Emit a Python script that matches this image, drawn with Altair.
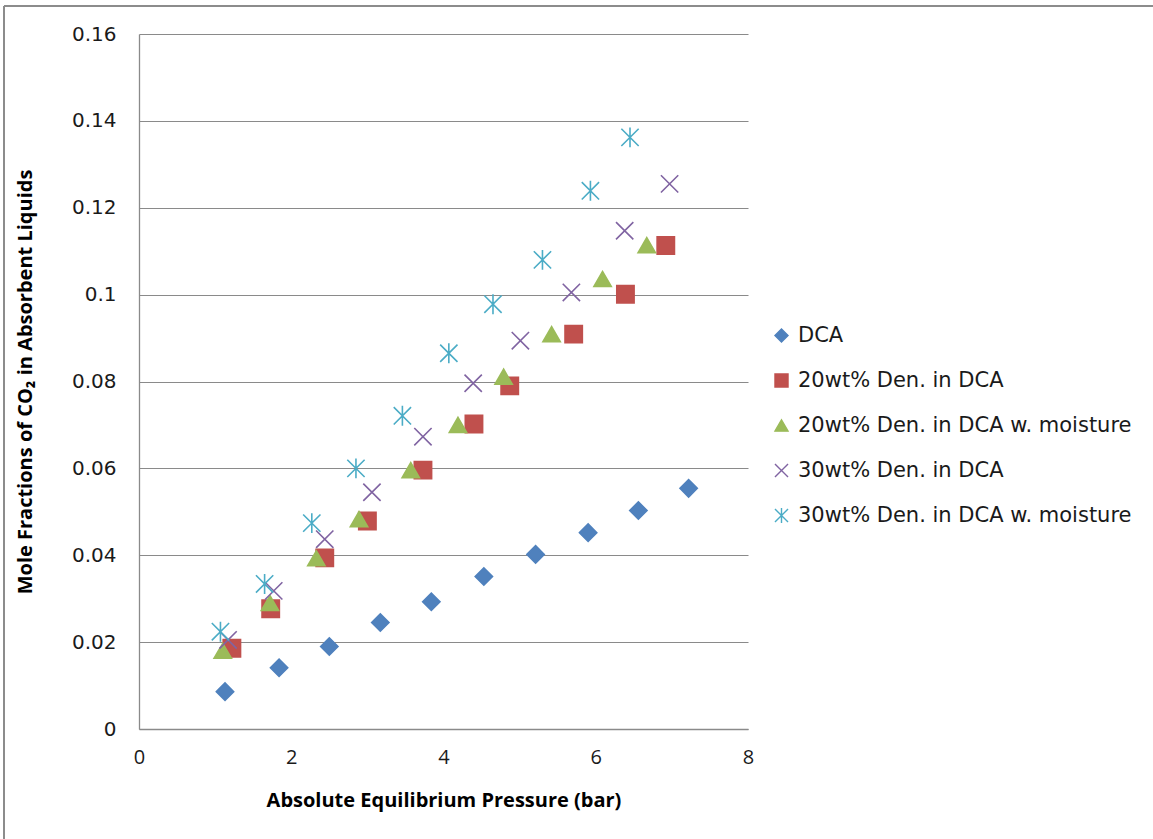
import altair as alt
import pandas as pd

# Series names (legend order)
series_names = [
    "DCA",
    "20wt% Den. in DCA",
    "20wt% Den. in DCA w. moisture",
    "30wt% Den. in DCA",
    "30wt% Den. in DCA w. moisture",
]

# Absolute equilibrium pressure (bar) and CO2 mole fraction per series
dca_p = [1.13, 1.84, 2.50, 3.17, 3.84, 4.53, 5.21, 5.90, 6.56, 7.22]
dca_x = [0.0086, 0.0141, 0.0190, 0.0245, 0.0293, 0.0351, 0.0402, 0.0452, 0.0503, 0.0554]

den20_p = [1.22, 1.73, 2.44, 3.00, 3.73, 4.40, 4.87, 5.71, 6.39, 6.92]
den20_x = [0.0186, 0.0277, 0.0394, 0.0479, 0.0596, 0.0702, 0.0790, 0.0909, 0.1001, 0.1113]

den20m_p = [1.10, 1.72, 2.33, 2.89, 3.57, 4.19, 4.79, 5.42, 6.09, 6.67]
den20m_x = [0.0180, 0.0290, 0.0393, 0.0483, 0.0596, 0.0700, 0.0811, 0.0909, 0.1036, 0.1114]

den30_p = [1.17, 1.77, 2.44, 3.06, 3.73, 4.39, 5.01, 5.68, 6.38, 6.97]
den30_x = [0.0205, 0.0318, 0.0437, 0.0545, 0.0673, 0.0796, 0.0894, 0.1005, 0.1147, 0.1255]

den30m_p = [1.07, 1.65, 2.27, 2.85, 3.46, 4.07, 4.65, 5.30, 5.93, 6.45]
den30m_x = [0.0224, 0.0334, 0.0474, 0.0600, 0.0721, 0.0865, 0.0978, 0.1080, 0.1239, 0.1362]

y_ticks = [0, 0.02, 0.04, 0.06, 0.08, 0.10, 0.12, 0.14, 0.16]
x_ticks = [0, 2, 4, 6, 8]

colors = ["#4F81BD", "#C0504D", "#9BBB59", "#8064A2", "#4BACC6"]
x_shape = "M-1,-1L1,1M-1,1L1,-1"
star_shape = "M-1,-1L1,1M-1,1L1,-1M0,-1.15L0,1.15"
shapes = ["diamond", "square", "triangle-up", x_shape, star_shape]

rows = []
for name, ps, xs in zip(
    series_names,
    [dca_p, den20_p, den20m_p, den30_p, den30m_p],
    [dca_x, den20_x, den20m_x, den30_x, den30m_x],
):
    for p, x in zip(ps, xs):
        rows.append({"series": name, "pressure": p, "fraction": x})
df = pd.DataFrame(rows)

FONT = "Open Sans"
GRID = "#8a8a8a"

points = alt.Chart(df).mark_point(filled=True, size=300, strokeWidth=1.6, opacity=1).encode(
    x=alt.X(
        "pressure:Q",
        scale=alt.Scale(domain=[0, 8], nice=False, zero=True),
        axis=alt.Axis(
            values=x_ticks,
            title="Absolute Equilibrium Pressure (bar)",
            grid=False,
            ticks=False,
            tickSize=0,
            labelFlush=False,
            labelPadding=18,
            labelFontSize=20,
            labelFont=FONT,
            labelColor="#1a1a1a",
            domainColor=GRID,
            domainWidth=1.3,
            titleFont=FONT,
            titleFontSize=20,
            titleFontWeight="bold",
            titleColor="#000000",
            titleX=304.5,
            titleY=71,
            titleBaseline="middle",
            titleAlign="center",
        ),
    ),
    y=alt.Y(
        "fraction:Q",
        scale=alt.Scale(domain=[0, 0.16], nice=False, zero=True),
        axis=alt.Axis(
            values=y_ticks,
            format="~g",
            title="Mole Fractions of CO₂ in Absorbent Liquids",
            grid=True,
            gridColor=GRID,
            gridWidth=1.2,
            ticks=False,
            tickSize=0,
            labelPadding=23,
            labelFontSize=20,
            labelFont="DejaVu Sans",
            labelColor="#1a1a1a",
            domainColor=GRID,
            domainWidth=1.3,
            titleFont=FONT,
            titleFontSize=20,
            titleFontWeight="bold",
            titleColor="#000000",
            titleAngle=-90,
            titleX=-114,
            titleY=347.5,
            titleBaseline="middle",
            titleAlign="center",
        ),
    ),
    fill=alt.Fill(
        "series:N",
        scale=alt.Scale(domain=series_names, range=colors),
        sort=series_names,
        legend=alt.Legend(
            title=None,
            orient="none",
            legendX=632,
            legendY=291,
            labelFont="DejaVu Sans",
            labelFontSize=21,
            labelColor="#1a1a1a",
            labelLimit=420,
            symbolSize=170,
            symbolStrokeWidth=1.4,
            labelOffset=6,
            rowPadding=23,
        ),
    ),
    stroke=alt.Stroke(
        "series:N",
        scale=alt.Scale(domain=series_names, range=colors),
        sort=series_names,
    ),
    shape=alt.Shape(
        "series:N",
        scale=alt.Scale(domain=series_names, range=shapes),
        sort=series_names,
    ),
)

# Outer chart-area frame (left and top edges)
frame_df = pd.DataFrame({"k": [0]})
frame_left = alt.Chart(frame_df).mark_rule(color="#8c8c8c", strokeWidth=2).encode(
    x=alt.value(-135), y=alt.value(-28), y2=alt.value(805)
)
frame_top = alt.Chart(frame_df).mark_rule(color="#8c8c8c", strokeWidth=2).encode(
    x=alt.value(-135), x2=alt.value(1014), y=alt.value(-28)
)

chart = alt.layer(points, frame_left, frame_top).properties(
    width=609,
    height=695,
    padding={"left": 139, "top": 34, "right": 405, "bottom": 110},
    autosize=alt.AutoSizeParams(type="none"),
    background="white",
).configure_view(stroke=None)

chart.save("out.html", embed_options={"renderer": "svg", "actions": False})
